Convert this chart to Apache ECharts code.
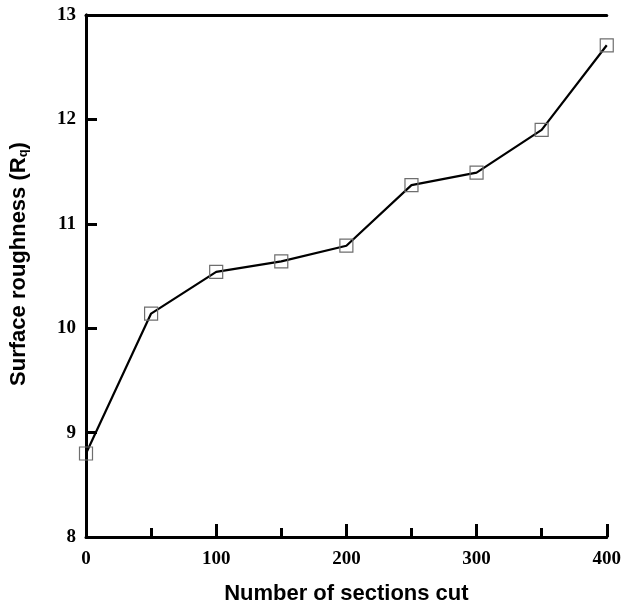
<!DOCTYPE html>
<html>
<head>
<meta charset="utf-8">
<script src="https://cdn.jsdelivr.net/npm/echarts@6/dist/echarts.min.js"></script>
<style>
  html, body { margin: 0; padding: 0; background: #fff; }
  #chart { width: 624px; height: 610px; }
</style>
</head>
<body>
<div id="chart"></div>
<script>
// Surface roughness measured after each batch of cut sections
const sectionsCut = [0, 50, 100, 150, 200, 250, 300, 350, 400];
const roughnessRq = [8.80, 10.14, 10.54, 10.64, 10.79, 11.37, 11.49, 11.90, 12.71];
const xTickValues = [0, 100, 200, 300, 400];
const yTickValues = [8, 9, 10, 11, 12, 13];

const points = sectionsCut.map((x, i) => [x, roughnessRq[i]]);

const tickFont = {
  fontFamily: '"Liberation Serif", "DejaVu Serif", serif',
  fontWeight: 'bold',
  fontSize: 19,
  color: '#000'
};
const titleFont = {
  fontFamily: '"Liberation Sans", Arial, sans-serif',
  fontWeight: 'bold',
  fontSize: 22,
  color: '#000'
};
const frame = { show: true, lineStyle: { color: '#000', width: 3 } };

const chart = echarts.init(document.getElementById('chart'), null, { renderer: 'canvas' });
chart.setOption({
  animation: false,
  backgroundColor: '#fff',
  grid: { left: 85, right: 13, top: 15, bottom: 72, containLabel: false },
  xAxis: [
    {
      type: 'value',
      min: xTickValues[0],
      max: xTickValues[xTickValues.length - 1],
      interval: 100,
      position: 'bottom',
      axisLine: frame,
      axisTick: { show: true, inside: true, length: 13, lineStyle: { color: '#000', width: 3 } },
      minorTick: { show: true, splitNumber: 2, length: 9, lineStyle: { color: '#000', width: 3 } },
      splitLine: { show: false },
      axisLabel: Object.assign({ margin: 13 }, tickFont),
      name: 'Number of sections cut',
      nameLocation: 'middle',
      nameGap: 46,
      nameTextStyle: titleFont
    },
    {
      type: 'value',
      min: 0, max: 400,
      position: 'top',
      axisLine: frame,
      axisTick: { show: false },
      axisLabel: { show: false },
      splitLine: { show: false }
    }
  ],
  yAxis: [
    {
      type: 'value',
      min: yTickValues[0],
      max: yTickValues[yTickValues.length - 1],
      interval: 1,
      position: 'left',
      axisLine: frame,
      axisTick: { show: true, inside: true, length: 11, lineStyle: { color: '#000', width: 3 } },
      splitLine: { show: false },
      axisLabel: Object.assign({ margin: 10 }, tickFont),
      name: '{t|Surface roughness (R}{s|q}{t|)}',
      nameLocation: 'middle',
      nameGap: 56,
      nameTextStyle: {
        padding: [0, 0, 0, 24],
        rich: {
          t: titleFont,
          s: Object.assign({}, titleFont, { fontSize: 13, padding: [9, 0, 0, 0] })
        }
      }
    },
    {
      type: 'value',
      min: 8, max: 13,
      position: 'right',
      axisLine: frame,
      axisTick: { show: false },
      axisLabel: { show: false },
      splitLine: { show: false }
    }
  ],
  series: [
    {
      type: 'line',
      data: points,
      clip: false,
      symbol: 'rect',
      symbolSize: 13,
      lineStyle: { color: '#000', width: 2.2 },
      itemStyle: { color: 'rgba(0,0,0,0)', borderColor: '#6e6e6e', borderWidth: 1.2 },
      z: 3
    }
  ]
});
</script>
</body>
</html>
